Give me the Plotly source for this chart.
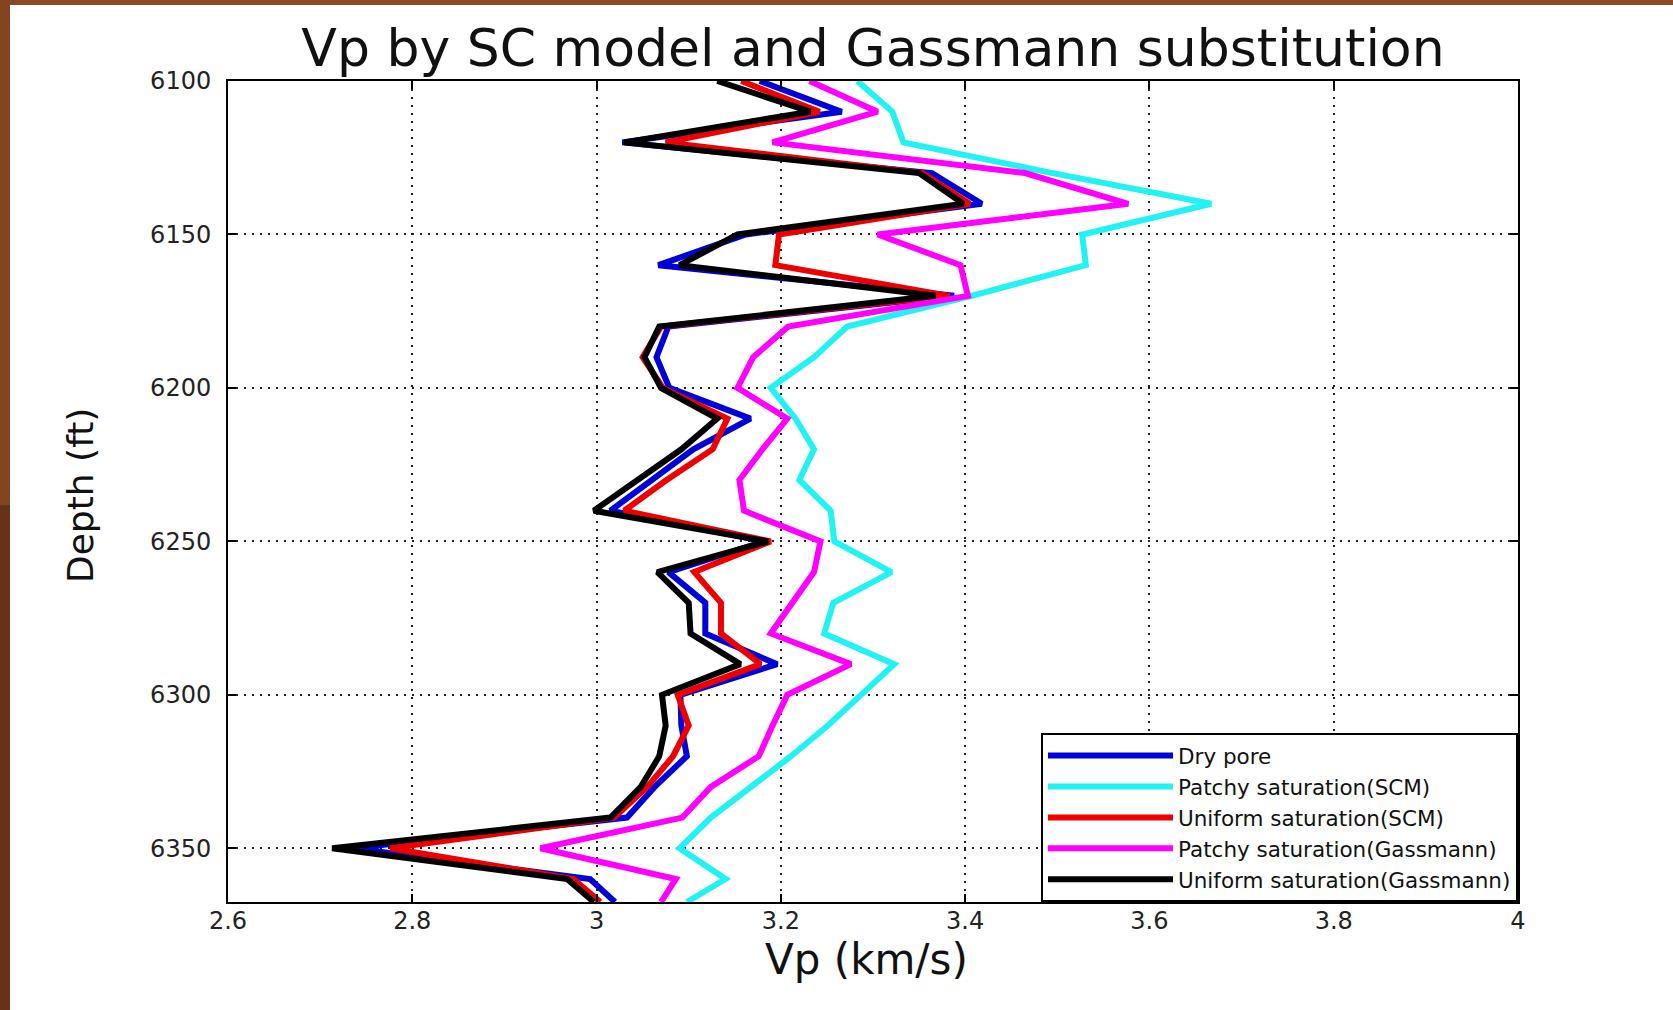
import plotly.graph_objects as go

# ---------------- data ----------------
depth = [6100, 6110, 6120, 6130, 6140, 6150, 6160, 6170, 6180, 6190,
         6200, 6210, 6220, 6230, 6240, 6250, 6260, 6270, 6280, 6290,
         6300, 6310, 6320, 6330, 6340, 6350, 6360, 6367.5]

dry_pore = [3.177, 3.266, 3.028, 3.364, 3.418, 3.162, 3.067, 3.388, 3.078, 3.065,
            3.079, 3.167, 3.105, 3.060, 3.015, 3.182, 3.078, 3.118, 3.118, 3.196,
            3.091, 3.092, 3.098, 3.063, 3.033, 2.735, 2.993, 3.020]

patchy_scm = [3.283, 3.321, 3.333, 3.495, 3.667, 3.527, 3.531, 3.407, 3.272, 3.236,
              3.189, 3.216, 3.236, 3.220, 3.254, 3.258, 3.320, 3.257, 3.247, 3.323,
              3.287, 3.251, 3.211, 3.167, 3.124, 3.090, 3.140, 3.098]

uniform_scm = [3.157, 3.242, 3.075, 3.354, 3.405, 3.198, 3.194, 3.383, 3.070, 3.050,
               3.072, 3.142, 3.126, 3.076, 3.030, 3.189, 3.106, 3.135, 3.135, 3.178,
               3.088, 3.100, 3.083, 3.055, 3.019, 2.776, 2.975, 3.004]

patchy_gass = [3.231, 3.305, 3.191, 3.465, 3.577, 3.305, 3.395, 3.403, 3.208, 3.170,
               3.153, 3.207, 3.180, 3.155, 3.160, 3.243, 3.236, 3.212, 3.189, 3.276,
               3.207, 3.191, 3.176, 3.124, 3.093, 2.939, 3.086, 3.070]

uniform_gass = [3.131, 3.232, 3.030, 3.350, 3.398, 3.153, 3.090, 3.368, 3.068, 3.052,
                3.070, 3.131, 3.092, 3.045, 2.997, 3.186, 3.066, 3.100, 3.102, 3.156,
                3.071, 3.075, 3.068, 3.048, 3.015, 2.713, 2.968, 2.997]

series_names = ["Dry pore", "Patchy saturation(SCM)", "Uniform saturation(SCM)",
                "Patchy saturation(Gassmann)", "Uniform saturation(Gassmann)"]
series_values = [dry_pore, patchy_scm, uniform_scm, patchy_gass, uniform_gass]
series_colors = ["#0000d8", "#22f2f2", "#ee0000", "#ff00ff", "#000000"]

x_ticks = [2.6, 2.8, 3.0, 3.2, 3.4, 3.6, 3.8, 4.0]
x_tick_labels = ["2.6", "2.8", "3", "3.2", "3.4", "3.6", "3.8", "4"]
y_ticks = [6100, 6150, 6200, 6250, 6300, 6350]
y_tick_labels = ["6100", "6150", "6200", "6250", "6300", "6350"]

# ---------------- figure ----------------
W, H = 1673, 1010
ML, MR, MT, MB = 228, 155, 81, 108
FONT = "DejaVu Sans"

fig = go.Figure()
for name, vals, col in zip(series_names, series_values, series_colors):
    fig.add_trace(go.Scatter(x=vals, y=depth, mode="lines", name=name,
                             line=dict(color=col, width=6)))

pw = W - ML - MR
ph = H - MT - MB
def px_to_paper_x(px):
    return (px - ML) / pw
def px_to_paper_y(py):
    return (H - MB - py) / ph

# slide-like brown border strips (top and left edges of the picture)
shapes = [
    dict(type="rect", xref="paper", yref="paper", layer="below",
         x0=px_to_paper_x(0), x1=px_to_paper_x(W), y0=px_to_paper_y(5), y1=px_to_paper_y(0),
         fillcolor="#8a4a28", line=dict(width=0)),
    dict(type="rect", xref="paper", yref="paper", layer="below",
         x0=px_to_paper_x(0), x1=px_to_paper_x(10), y0=px_to_paper_y(H / 2), y1=px_to_paper_y(0),
         fillcolor="#84441f", line=dict(width=0)),
    dict(type="rect", xref="paper", yref="paper", layer="below",
         x0=px_to_paper_x(0), x1=px_to_paper_x(10), y0=px_to_paper_y(H), y1=px_to_paper_y(H / 2),
         fillcolor="#66321a", line=dict(width=0)),
]

annotations = [
    dict(text="Vp (km/s)", xref="paper", yref="paper",
         x=px_to_paper_x(866), y=px_to_paper_y(959), xanchor="center", yanchor="middle",
         showarrow=False, font=dict(family=FONT, size=42, color="#111111")),
    dict(text="Depth (ft)", xref="paper", yref="paper", textangle=-90,
         x=px_to_paper_x(80), y=px_to_paper_y(496), xanchor="center", yanchor="middle",
         showarrow=False, font=dict(family=FONT, size=36, color="#111111")),
]

axis_common = dict(
    showline=True, linecolor="black", linewidth=2, mirror="ticks",
    ticks="inside", ticklen=8, tickwidth=1.5, tickcolor="black",
    showgrid=True, gridcolor="#222222", gridwidth=1.5, griddash="2px,6px",
    zeroline=False, automargin=False,
    tickfont=dict(family=FONT, size=24, color="#222222"),
)

fig.update_layout(
    width=W, height=H,
    margin=dict(l=ML, r=MR, t=MT, b=MB),
    paper_bgcolor="white", plot_bgcolor="white",
    shapes=shapes,
    annotations=annotations,
    title=dict(text="Vp by SC model and Gassmann substitution",
               font=dict(family=FONT, size=52, color="#111111"),
               x=(ML + pw / 2) / W, xanchor="center",
               y=1 - 48 / H, yanchor="middle", yref="container"),
    xaxis=dict(range=[2.6, 4.0], tickvals=x_ticks, ticktext=x_tick_labels,
               ticklabelstandoff=-4, **axis_common),
    yaxis=dict(range=[6367.5, 6100], tickvals=y_ticks, ticktext=y_tick_labels,
               ticklabelstandoff=10, **axis_common),
    legend=dict(x=1, y=0, xanchor="right", yanchor="bottom",
                bgcolor="white", bordercolor="black", borderwidth=2,
                font=dict(family=FONT, size=21.5, color="#111111"),
                itemwidth=125, tracegroupgap=0),
    showlegend=True,
)

fig.write_html("out.html")
